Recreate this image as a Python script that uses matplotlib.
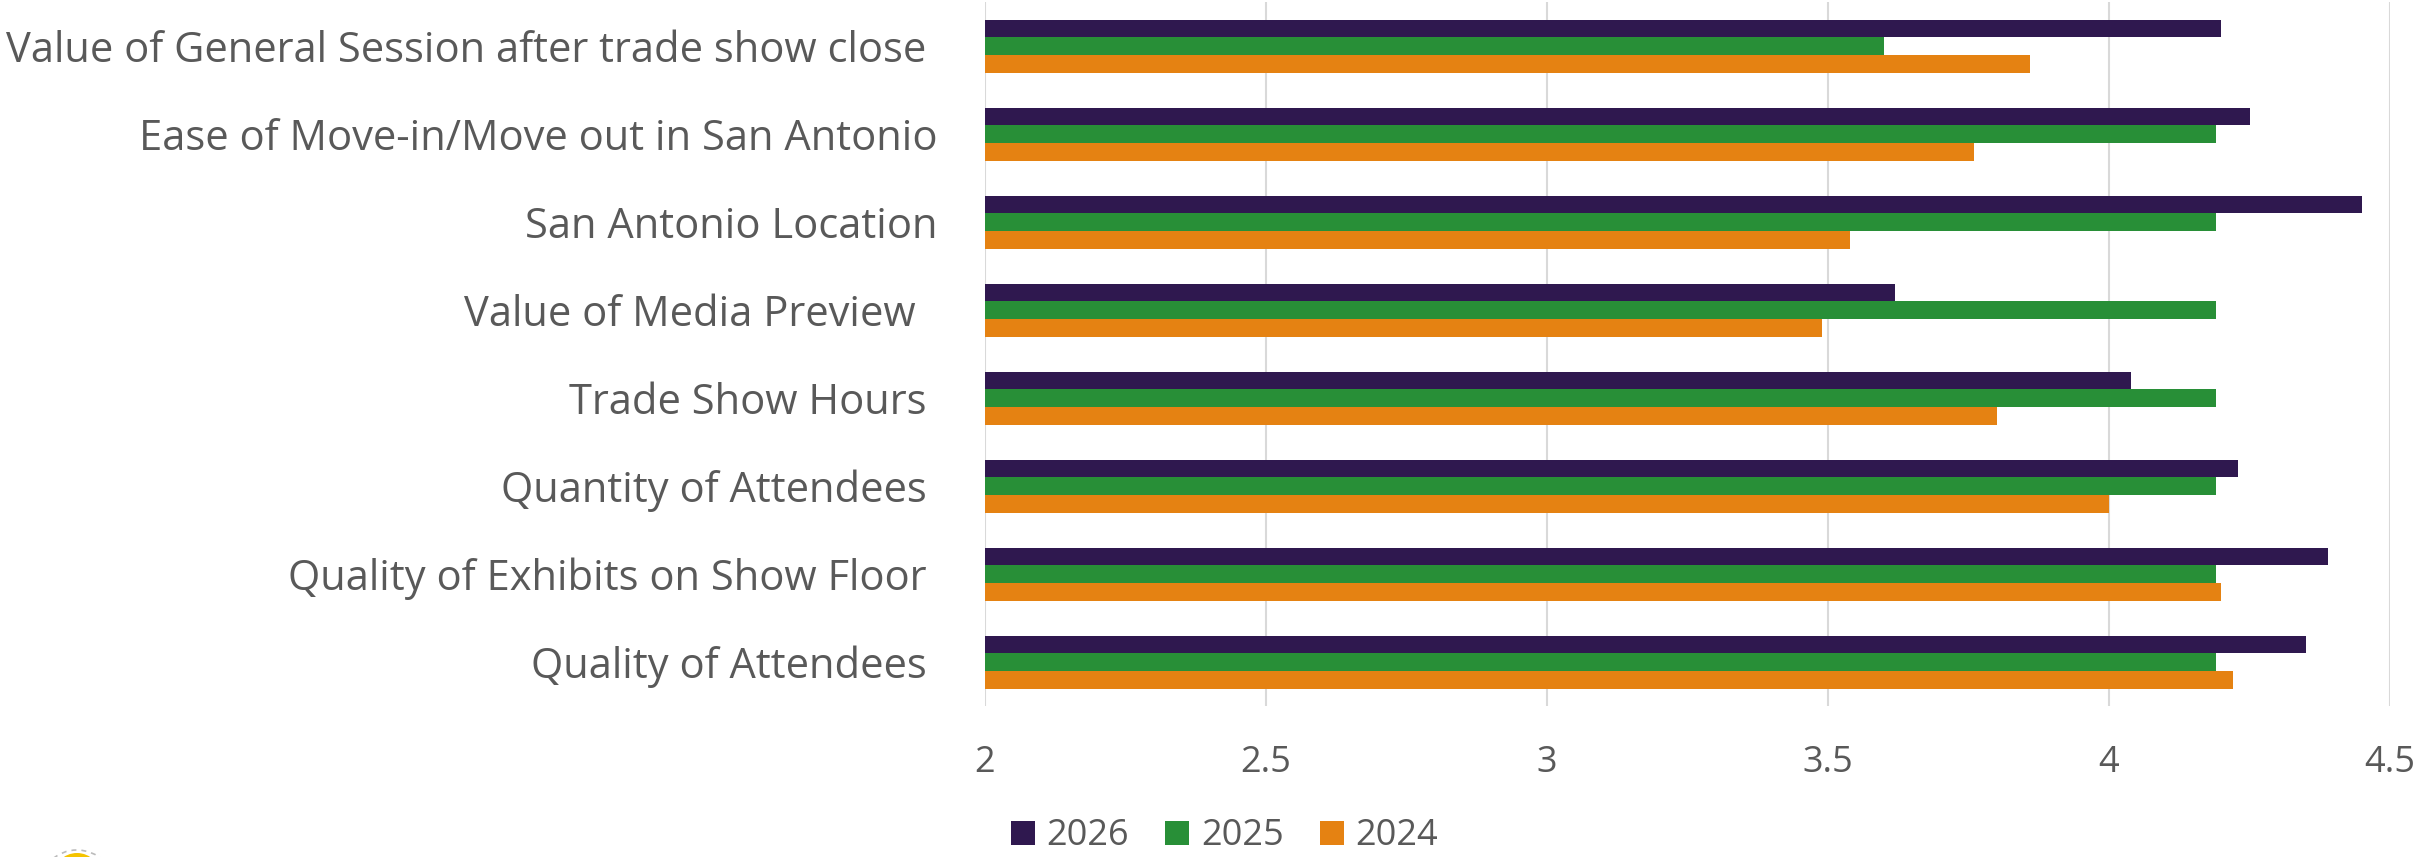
import numpy as np
import matplotlib.pyplot as plt
from matplotlib.patches import Circle

plt.rcParams['font.family'] = ['Open Sans', 'DejaVu Sans']

# categories listed top to bottom as in the chart
categories = [
    "Value of General Session after trade show close ",
    "Ease of Move-in/Move out in San Antonio",
    "San Antonio Location",
    "Value of Media Preview  ",
    "Trade Show Hours ",
    "Quantity of Attendees ",
    "Quality of Exhibits on Show Floor ",
    "Quality of Attendees ",
]
vals_2026 = [4.20, 4.25, 4.45, 3.62, 4.04, 4.23, 4.39, 4.35]
vals_2025 = [3.60, 4.19, 4.19, 4.19, 4.19, 4.19, 4.19, 4.19]
vals_2024 = [3.86, 3.76, 3.54, 3.49, 3.80, 4.00, 4.20, 4.22]
years = ["2026", "2025", "2024"]
colors = ["#2F184F", "#288F37", "#E58212"]
xticks = [2, 2.5, 3, 3.5, 4, 4.5]
text_col = "#595959"

fig = plt.figure(figsize=(24.25, 8.57), dpi=100)
ax = fig.add_axes([0.406, 0.176, 0.5796, 0.8215])

n = len(categories)
y = np.arange(n)[::-1]  # first category on top
h = 0.2
series = [vals_2026, vals_2025, vals_2024]
for i, (vals, lab, c) in enumerate(zip(series, years, colors)):
    ax.barh(y + h - i * h, np.array(vals) - 2, left=2, height=h,
            color=c, label=lab, zorder=3)

ax.set_xlim(2, 4.5)
ax.set_ylim(-0.5, n - 0.5)
ax.set_xticks(xticks)
ax.set_xticklabels([f"{t:g}" for t in xticks])
ax.set_yticks(y)
ax.set_yticklabels(categories)
ax.tick_params(axis='x', length=0, pad=28, labelsize=26, labelcolor=text_col)
ax.tick_params(axis='y', length=0, pad=34, labelsize=30, labelcolor=text_col)
ax.grid(axis='x', color="#D9D9D9", linewidth=1.5, zorder=0)
for s in ax.spines.values():
    s.set_visible(False)

fig.legend(loc='center', bbox_to_anchor=(0.505, 0.024), ncol=3, frameon=False,
           fontsize=26, labelcolor=text_col, handlelength=0.66, handleheight=0.66,
           handletextpad=0.33, columnspacing=1.0)

# partial logo at bottom-left corner
fig.patches.append(Circle((77, -31), 38, transform=None, facecolor='none',
                          edgecolor='#BBBBBB', linestyle=(0, (3, 3)), lw=1.2))
fig.patches.append(Circle((77, -20), 24, transform=None, facecolor='#F5C400',
                          edgecolor='none'))

fig.savefig("out.png", dpi=100)
